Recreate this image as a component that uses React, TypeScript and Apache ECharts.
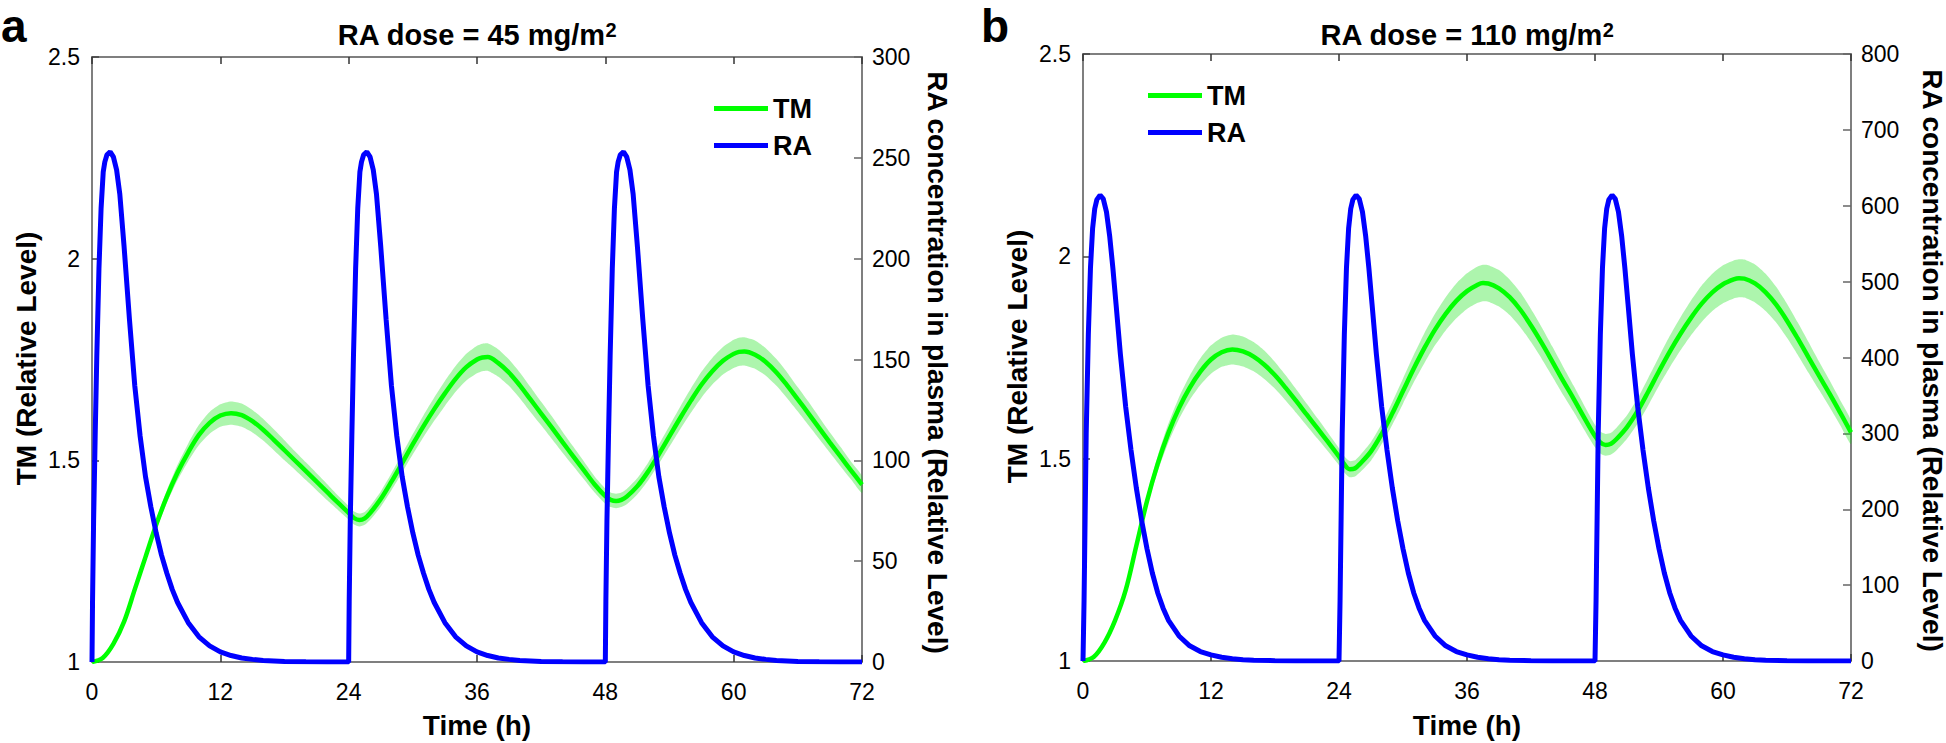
import React, { useEffect, useRef } from "react";
import * as echarts from "echarts";

const FONT = '"Liberation Sans", Arial, Helvetica, sans-serif';
const GREEN = "#00ff00";
const BLUE = "#0000ff";
const BAND = "rgba(0,225,0,0.32)";
const AXIS = "#7f7f7f";

// Time axis (hours)
const timeMin = 0;
const timeMax = 72;
const timeStep = 12;
const doseTimes = [0, 24, 48];

// Left axis (TM relative level)
const tmMin = 1;
const tmMax = 2.5;
const tmStep = 0.5;

// Right axis (RA concentration) per panel
const raMax = [300, 800];
const raStep = [50, 100];

const panelLetters = ["a", "b"];
const panelTitles = ["RA dose = 45 mg/m", "RA dose = 110 mg/m"];
const titleSup = "2";
const xName = "Time (h)";
const leftName = "TM (Relative Level)";
const rightName = "RA concentration in plasma (Relative Level)";
const legendNames = ["TM", "RA"];

// RA profile after each dose: [hours after dose, concentration] — panel a
const raDoseA = [
  [0, 0], [0.05, 30], [0.15, 70], [0.3, 113], [0.45, 152], [0.65, 195], [0.85, 225],
  [1.05, 243], [1.2, 248], [1.4, 251.5], [1.7, 253], [2.0, 250.5], [2.3, 244], [2.6, 232],
  [3.0, 206], [3.5, 170], [4.0, 137], [4.5, 112], [5.0, 92], [5.5, 77], [6.0, 64],
  [6.5, 53], [7.0, 44], [7.5, 36], [8.0, 29.5], [9, 19.5], [10, 12.5], [11, 8], [12, 5],
  [13, 3.2], [14, 2], [15, 1.3], [16, 0.8], [18, 0.3], [20, 0.1], [22, 0.03], [24, 0],
];

// RA profile after each dose — panel b
const raDoseB = [
  [0, 0], [0.05, 40], [0.1, 80], [0.2, 190], [0.3, 300], [0.5, 430], [0.7, 518],
  [0.9, 570], [1.1, 596], [1.3, 608], [1.6, 614], [1.9, 609], [2.2, 592], [2.5, 560],
  [2.8, 518], [3.1, 470], [3.5, 405], [4.0, 335], [4.5, 278], [5.0, 228], [5.5, 185],
  [6.0, 148], [6.5, 116], [7.0, 90], [7.5, 70], [8.0, 54], [9, 33], [10, 20], [11, 12.5],
  [12, 8], [13, 5], [14, 3], [15, 1.8], [16, 1.1], [18, 0.4], [20, 0.15], [22, 0.05], [24, 0],
];

// TM: [time, mean, half-width of shaded band] — panel a
const tmA = [
  [0, 1.0, 0.0], [1, 1.01, 0.001], [2, 1.045, 0.002], [3, 1.1, 0.004], [4, 1.18, 0.007],
  [5, 1.26, 0.01], [6, 1.34, 0.013], [7, 1.41, 0.016], [8, 1.47, 0.019], [9, 1.52, 0.022],
  [10, 1.563, 0.025], [11, 1.593, 0.027], [12, 1.611, 0.028], [13, 1.617, 0.029],
  [14, 1.612, 0.029], [15, 1.597, 0.028], [16, 1.576, 0.027], [17, 1.551, 0.026],
  [18, 1.525, 0.025], [19, 1.499, 0.023], [20, 1.473, 0.022], [21, 1.447, 0.021],
  [22, 1.421, 0.02], [23, 1.395, 0.018], [24, 1.37, 0.017], [24.5, 1.357, 0.016],
  [25, 1.352, 0.016], [25.5, 1.356, 0.016], [26, 1.369, 0.017], [27, 1.404, 0.019],
  [28, 1.447, 0.021], [29, 1.493, 0.023], [30, 1.54, 0.025], [31, 1.585, 0.027],
  [32, 1.627, 0.029], [33, 1.666, 0.031], [34, 1.702, 0.032], [35, 1.731, 0.033],
  [36, 1.75, 0.034], [36.5, 1.755, 0.034], [37, 1.756, 0.034], [38, 1.741, 0.034],
  [39, 1.717, 0.033], [40, 1.686, 0.032], [41, 1.651, 0.031], [42, 1.616, 0.029],
  [43, 1.581, 0.028], [44, 1.545, 0.026], [45, 1.51, 0.024], [46, 1.475, 0.022],
  [47, 1.44, 0.02], [48, 1.411, 0.019], [48.5, 1.402, 0.018], [49, 1.399, 0.018],
  [49.5, 1.402, 0.018], [50, 1.41, 0.019], [51, 1.436, 0.02], [52, 1.472, 0.022],
  [53, 1.515, 0.024], [54, 1.56, 0.026], [55, 1.605, 0.028], [56, 1.648, 0.03],
  [57, 1.688, 0.032], [58, 1.721, 0.033], [59, 1.747, 0.034], [60, 1.764, 0.035],
  [60.5, 1.769, 0.035], [61, 1.77, 0.035], [62, 1.762, 0.035], [63, 1.744, 0.034],
  [64, 1.718, 0.033], [65, 1.686, 0.032], [66, 1.651, 0.03], [67, 1.616, 0.029],
  [68, 1.58, 0.027], [69, 1.544, 0.025], [70, 1.509, 0.024], [71, 1.474, 0.022],
  [72, 1.44, 0.021],
];

// TM — panel b
const tmB = [
  [0, 1.0, 0.0], [1, 1.01, 0.001], [2, 1.045, 0.002], [3, 1.1, 0.004], [4, 1.175, 0.007],
  [5, 1.285, 0.011], [6, 1.395, 0.015], [7, 1.487, 0.019], [8, 1.563, 0.023],
  [9, 1.625, 0.027], [10, 1.675, 0.03], [11, 1.715, 0.033], [12, 1.745, 0.035],
  [13, 1.763, 0.036], [14, 1.77, 0.037], [15, 1.765, 0.037], [16, 1.752, 0.036],
  [17, 1.732, 0.035], [18, 1.706, 0.033], [19, 1.675, 0.031], [20, 1.642, 0.029],
  [21, 1.608, 0.027], [22, 1.574, 0.025], [23, 1.54, 0.023], [24, 1.505, 0.021],
  [24.5, 1.486, 0.02], [25, 1.474, 0.02], [25.5, 1.476, 0.02], [26, 1.488, 0.021],
  [27, 1.518, 0.023], [28, 1.561, 0.025], [29, 1.612, 0.028], [30, 1.667, 0.031],
  [31, 1.722, 0.034], [32, 1.773, 0.037], [33, 1.819, 0.039], [34, 1.858, 0.041],
  [35, 1.89, 0.043], [36, 1.914, 0.044], [37, 1.93, 0.045], [37.5, 1.934, 0.045],
  [38, 1.933, 0.045], [39, 1.921, 0.045], [40, 1.899, 0.044], [41, 1.868, 0.043],
  [42, 1.829, 0.041], [43, 1.786, 0.039], [44, 1.74, 0.037], [45, 1.693, 0.035],
  [46, 1.648, 0.032], [47, 1.601, 0.03], [48, 1.556, 0.028], [48.5, 1.54, 0.027],
  [49, 1.534, 0.027], [49.5, 1.537, 0.027], [50, 1.548, 0.028], [51, 1.578, 0.029],
  [52, 1.618, 0.031], [53, 1.666, 0.034], [54, 1.716, 0.036], [55, 1.764, 0.039],
  [56, 1.808, 0.041], [57, 1.848, 0.043], [58, 1.883, 0.045], [59, 1.911, 0.046],
  [60, 1.931, 0.047], [61, 1.943, 0.047], [61.5, 1.946, 0.047], [62, 1.945, 0.047],
  [63, 1.933, 0.047], [64, 1.911, 0.046], [65, 1.88, 0.044], [66, 1.841, 0.042],
  [67, 1.797, 0.04], [68, 1.751, 0.038], [69, 1.705, 0.035], [70, 1.66, 0.033],
  [71, 1.613, 0.031], [72, 1.565, 0.029],
];

const raProfiles = [raDoseA, raDoseB];
const tmData = [tmA, tmB];

// Layout (pixels)
const grids = [
  { left: 92, top: 57, width: 770, height: 605 },
  { left: 1083, top: 54, width: 768, height: 607 },
];
const legendPos = [
  { left: 714, top: 95 },
  { left: 1148, top: 82 },
];

function repeatDoses(profile: number[][]) {
  const out: number[][] = [];
  doseTimes.forEach((d) => {
    profile.forEach(([t, v]) => out.push([d + t, v]));
  });
  return out;
}

export default function App() {
  const ref = useRef<HTMLDivElement>(null);

  useEffect(() => {
    if (!ref.current) return;
    const chart = echarts.init(ref.current, null, { renderer: "svg" });

    const xAxes: any[] = [];
    const yAxes: any[] = [];
    const series: any[] = [];
    const graphics: any[] = [];

    const tickLabel = { color: "#000", fontSize: 23, fontFamily: FONT };

    grids.forEach((g, i) => {
      const base = {
        type: "value",
        gridIndex: i,
        min: timeMin,
        max: timeMax,
        interval: timeStep,
        splitLine: { show: false },
        axisLine: { show: true, onZero: false, lineStyle: { color: AXIS, width: 2 } },
        axisTick: { show: true, inside: true, length: 7, lineStyle: { color: "#333", width: 1.5 } },
      };
      xAxes.push({ ...base, position: "bottom", axisLabel: { ...tickLabel, margin: 18 } });
      xAxes.push({ ...base, position: "top", axisLabel: { show: false } });

      yAxes.push({
        type: "value",
        gridIndex: i,
        position: "left",
        min: tmMin,
        max: tmMax,
        interval: tmStep,
        splitLine: { show: false },
        axisLine: { show: true, onZero: false, lineStyle: { color: AXIS, width: 2 } },
        axisTick: { show: true, inside: true, length: 7, lineStyle: { color: "#444", width: 1.5 } },
        axisLabel: { ...tickLabel, margin: 12, formatter: (v: number) => String(v) },
      });
      yAxes.push({
        type: "value",
        gridIndex: i,
        position: "right",
        min: 0,
        max: raMax[i],
        interval: raStep[i],
        splitLine: { show: false },
        axisLine: { show: true, onZero: false, lineStyle: { color: AXIS, width: 2 } },
        axisTick: { show: true, inside: true, length: 8, lineStyle: { color: "#666", width: 1.5 } },
        axisLabel: { ...tickLabel, margin: 10 },
      });

      const rows = tmData[i];
      const xi = i * 2;
      const yl = i * 2;
      const yr = i * 2 + 1;

      series.push({
        type: "custom",
        xAxisIndex: xi,
        yAxisIndex: yl,
        silent: true,
        z: 1,
        data: [[rows[0][0], rows[0][1]]],
        renderItem: (_p: any, api: any) => {
          const upper = rows.map((r) => api.coord([r[0], r[1] + r[2]]));
          const lower = rows.slice().reverse().map((r) => api.coord([r[0], r[1] - r[2]]));
          return {
            type: "polygon",
            shape: { points: upper.concat(lower), smooth: 0.2 },
            style: { fill: BAND },
          };
        },
      });
      series.push({
        name: legendNames[0],
        type: "line",
        xAxisIndex: xi,
        yAxisIndex: yl,
        data: rows.map((r) => [r[0], r[1]]),
        smooth: 0.35,
        showSymbol: false,
        z: 2,
        itemStyle: { color: GREEN },
        lineStyle: { color: GREEN, width: 4.5 },
      });
      series.push({
        name: legendNames[1],
        type: "line",
        xAxisIndex: xi,
        yAxisIndex: yr,
        data: repeatDoses(raProfiles[i]),
        showSymbol: false,
        z: 3,
        itemStyle: { color: BLUE },
        lineStyle: { color: BLUE, width: 5 },
      });

      const cx = g.left + g.width / 2;
      const cy = g.top + g.height / 2;
      graphics.push({
        type: "text",
        x: i === 0 ? 1 : 981,
        y: 26,
        style: { text: panelLetters[i], font: `bold 46px ${FONT}`, fill: "#000", align: "left", verticalAlign: "middle" },
      });
      graphics.push({
        type: "text",
        x: cx,
        y: 35,
        style: {
          text: `{m|${panelTitles[i]}}{s|${titleSup}}`,
          align: "center",
          verticalAlign: "middle",
          rich: {
            m: { fontSize: 29, fontWeight: "bold", fontFamily: FONT, fill: "#000", lineHeight: 30 },
            s: { fontSize: 20, fontWeight: "bold", fontFamily: FONT, fill: "#000", verticalAlign: "top", lineHeight: 20 },
          },
        },
      });
      graphics.push({
        type: "text",
        x: cx,
        y: 725,
        style: { text: xName, font: `bold 28px ${FONT}`, fill: "#000", align: "center", verticalAlign: "middle" },
      });
      graphics.push({
        type: "text",
        x: i === 0 ? 26 : 1017,
        y: cy - 1,
        rotation: Math.PI / 2,
        style: { text: leftName, font: `bold 28px ${FONT}`, fill: "#000", align: "center", verticalAlign: "middle" },
      });
      graphics.push({
        type: "text",
        x: i === 0 ? 937 : 1932,
        y: cy + 3,
        rotation: -Math.PI / 2,
        style: { text: rightName, font: `bold 28px ${FONT}`, fill: "#000", align: "center", verticalAlign: "middle" },
      });
    });

    const option: any = {
      animation: false,
      backgroundColor: "#ffffff",
      grid: grids.map((g) => ({ ...g, containLabel: false, outerBoundsMode: "none" })),
      xAxis: xAxes,
      yAxis: yAxes,
      legend: legendPos.map((p) => ({
        data: legendNames,
        orient: "vertical",
        left: p.left,
        top: p.top,
        padding: 0,
        itemWidth: 54,
        itemHeight: 5,
        itemGap: 10,
        icon: "rect",
        selectedMode: false,
        textStyle: { color: "#000", fontSize: 27, fontWeight: "bold", fontFamily: FONT },
      })),
      series,
      graphic: graphics,
    };

    chart.setOption(option);
    return () => chart.dispose();
  }, []);

  return (
    <div
      ref={ref}
      style={{ position: "absolute", left: 0, top: 0, width: 1946, height: 743, background: "#fff" }}
    />
  );
}
